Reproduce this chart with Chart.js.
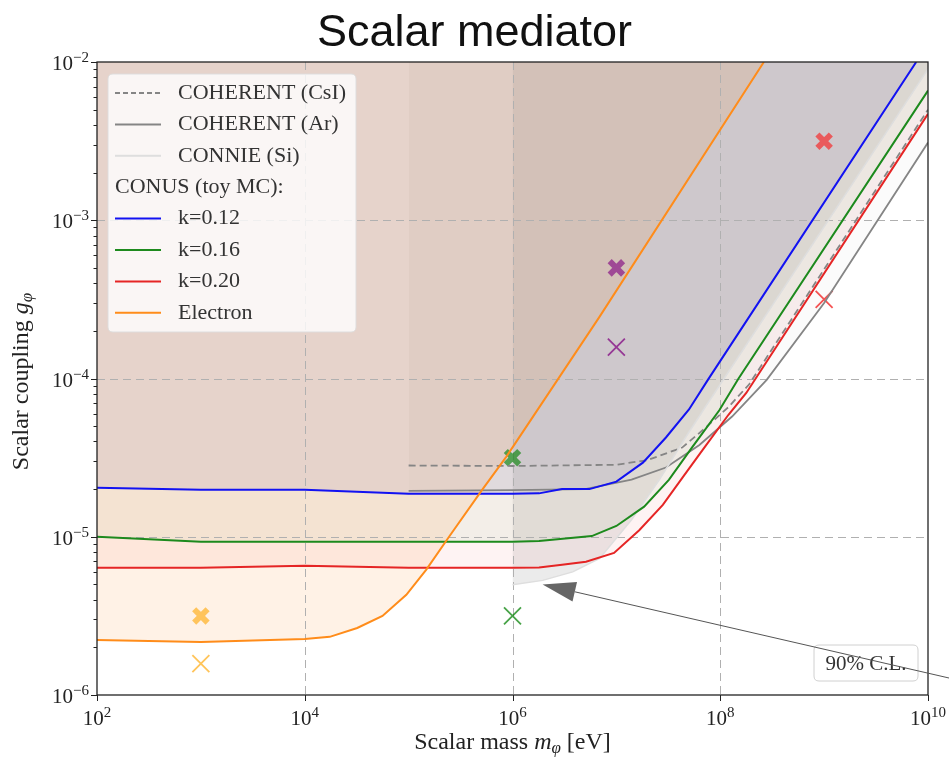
<!DOCTYPE html>
<html>
<head>
<meta charset="utf-8">
<title>Scalar mediator</title>
<script src="https://cdn.jsdelivr.net/npm/chart.js@4.4.1/dist/chart.umd.min.js"></script>
<style>
  html, body { margin: 0; padding: 0; background: #ffffff; }
  #wrap { width: 949px; height: 758px; }
</style>
</head>
<body>
<div id="wrap"><canvas id="chart" width="949" height="758"></canvas></div>
<script>
// Upper limits on the scalar-mediator coupling g_phi versus mediator mass (eV).

// COHERENT (CsI)
const massCsI     = [1e5, 1e6, 1e7, 2e7, 4.3e7, 7e7, 1.2e8, 1.9e8, 1e9, 1e10];
const couplingCsI = [2.82e-5, 2.8e-5, 2.85e-5, 3.05e-5, 3.66e-5, 4.8e-5, 6.6e-5, 9.2e-5, 4.9e-4, 5.0e-3];

// COHERENT (Ar)
const massAr      = [1e5, 1e6, 5e6, 1.4e7, 3e7, 6.3e7, 1.3e8, 2.8e8, 1e9, 1e10];
const couplingAr  = [1.95e-5, 1.97e-5, 2.0e-5, 2.3e-5, 2.74e-5, 3.8e-5, 5.75e-5, 9.8e-5, 3.0e-4, 3.1e-3];

// CONNIE (Si)
const massSi      = [1e6, 1.95e6, 3.8e6, 6.9e6, 1.4e7, 2.6e7, 4.7e7, 7.4e7, 1e10];
const couplingSi  = [4.97e-6, 5.3e-6, 6.0e-6, 7.3e-6, 1.28e-5, 2.3e-5, 4.3e-5, 6.8e-5, 9.0e-3];

// CONUS toy MC, quenching k = 0.12
const massK12     = [1e2, 1e3, 1e4, 1e5, 1e6, 1.8e6, 3e6, 5.5e6, 1e7, 1.8e7, 3e7, 5e7, 7.6e7, 7.7e9];
const couplingK12 = [2.04e-5, 1.98e-5, 1.98e-5, 1.87e-5, 1.87e-5, 1.88e-5, 2.0e-5, 2.0e-5, 2.23e-5, 2.94e-5, 4.24e-5, 6.37e-5, 9.8e-5, 1e-2];

// CONUS toy MC, quenching k = 0.16
const massK16     = [1e2, 1e3, 1e4, 1e5, 1e6, 1.8e6, 5.8e6, 1e7, 1.85e7, 3.2e7, 5.4e7, 9.8e7, 1.5e8, 1e10];
const couplingK16 = [1.0e-5, 9.3e-6, 9.3e-6, 9.3e-6, 9.3e-6, 9.4e-6, 1.01e-5, 1.17e-5, 1.55e-5, 2.29e-5, 3.7e-5, 6.3e-5, 1.0e-4, 6.6e-3];

// CONUS toy MC, quenching k = 0.20
const massK20     = [1e2, 1e3, 1e4, 1e5, 1e6, 1.8e6, 3e6, 5.1e6, 9.5e6, 1.66e7, 2.8e7, 4.4e7, 6.8e7, 1.2e8, 1.78e8, 1e10];
const couplingK20 = [6.37e-6, 6.37e-6, 6.55e-6, 6.37e-6, 6.37e-6, 6.4e-6, 6.65e-6, 6.95e-6, 7.9e-6, 1.1e-5, 1.59e-5, 2.4e-5, 3.55e-5, 5.9e-5, 8.1e-5, 4.7e-3];

// Electron recoil channel
const massElectron     = [1e2, 1e3, 1e4, 1.74e4, 3.2e4, 5.6e4, 9.5e4, 1.48e5, 2.45e5, 5.1e5, 8.7e5, 6.9e6, 2.63e8];
const couplingElectron = [2.23e-6, 2.16e-6, 2.26e-6, 2.33e-6, 2.65e-6, 3.16e-6, 4.3e-6, 6.2e-6, 1.0e-5, 1.98e-5, 3.2e-5, 2.46e-4, 1e-2];

// Benchmark points (bold and thin crosses)
const benchMass       = [1e3, 1e6, 1e7, 1e9];
const benchBold       = [3.16e-6, 3.16e-5, 5.0e-4, 3.16e-3];
const benchThin       = [1.58e-6, 3.16e-6, 1.58e-4, 3.16e-4];
const benchBoldColors = ['rgba(255,165,0,0.6)', 'rgba(0,128,0,0.62)', 'rgba(128,0,128,0.62)', 'rgba(255,0,0,0.55)'];
const benchThinColors = ['rgba(255,165,0,0.65)', 'rgba(0,128,0,0.72)', 'rgba(128,0,128,0.72)', 'rgba(240,0,0,0.68)'];

// Axis ticks
const xMajorExp = [2, 4, 6, 8, 10];
const xGridExp  = [4, 6, 8];
const yMajorExp = [-6, -5, -4, -3, -2];
const yGridExp  = [-5, -4, -3];

const SERIF = "'Liberation Serif', 'DejaVu Serif', serif";
const SANS  = "'Liberation Sans', Arial, sans-serif";

const pts = (xs, ys) => xs.map((v, i) => ({ x: v, y: ys[i] }));

const datasets = [
  { label: 'Electron', data: pts(massElectron, couplingElectron), borderColor: '#ff8c1a', borderWidth: 2,
    fill: 'end', backgroundColor: 'rgba(255,127,14,0.10)' },
  { label: 'k=0.12', data: pts(massK12, couplingK12), borderColor: '#1212f2', borderWidth: 2,
    fill: 'end', backgroundColor: 'rgba(91,66,154,0.10)' },
  { label: 'k=0.16', data: pts(massK16, couplingK16), borderColor: '#1d8a1d', borderWidth: 2,
    fill: 'end', backgroundColor: 'rgba(0,128,0,0.045)' },
  { label: 'k=0.20', data: pts(massK20, couplingK20), borderColor: '#e52525', borderWidth: 2,
    fill: 'end', backgroundColor: 'rgba(228,26,28,0.05)' },
  { label: 'CONNIE (Si)', data: pts(massSi, couplingSi), borderColor: '#dedede', borderWidth: 1.5,
    fill: 'end', backgroundColor: 'rgba(90,90,90,0.12)' },
  { label: 'COHERENT (Ar)', data: pts(massAr, couplingAr), borderColor: '#858585', borderWidth: 1.8,
    fill: 'end', backgroundColor: 'rgba(128,128,128,0.03)' },
  { label: 'COHERENT (CsI)', data: pts(massCsI, couplingCsI), borderColor: '#858585', borderWidth: 1.8,
    borderDash: [7, 4], fill: 'end', backgroundColor: 'rgba(128,128,128,0.03)' },
  { label: 'bold', data: pts(benchMass, benchBold), showLine: false, pointStyle: 'crossRot',
    pointRadius: 9.5, pointBorderWidth: 5.8, pointBorderColor: benchBoldColors, pointBackgroundColor: benchBoldColors },
  { label: 'thin', data: pts(benchMass, benchThin), showLine: false, pointStyle: 'crossRot',
    pointRadius: 12, pointBorderWidth: 1.8, pointBorderColor: benchThinColors, pointBackgroundColor: benchThinColors }
];

const legendRows = [
  { label: 'COHERENT (CsI)', ds: 6 },
  { label: 'COHERENT (Ar)', ds: 5 },
  { label: 'CONNIE (Si)', ds: 4 },
  { label: 'CONUS (toy MC):', ds: null },
  { label: 'k=0.12', ds: 1 },
  { label: 'k=0.16', ds: 2 },
  { label: 'k=0.20', ds: 3 },
  { label: 'Electron', ds: 0 }
];

function expText(e) { return (e < 0 ? '\u2212' : '') + Math.abs(e); }

function drawPower(ctx, e, px, baseY, align) {
  const big = '21px ' + SERIF, small = '15px ' + SERIF;
  ctx.font = big; const w1 = ctx.measureText('10').width;
  ctx.font = small; const w2 = ctx.measureText(expText(e)).width;
  const total = w1 + w2;
  const x0 = align === 'center' ? px - total / 2 : px - total;
  ctx.textAlign = 'left'; ctx.textBaseline = 'alphabetic';
  ctx.font = big; ctx.fillText('10', x0, baseY);
  ctx.font = small; ctx.fillText(expText(e), x0 + w1, baseY - 8);
}

function drawRich(ctx, parts, cx, baseY) {
  let total = 0;
  parts.forEach(p => { ctx.font = p.f; p.w = ctx.measureText(p.t).width; total += p.w; });
  let x = cx - total / 2;
  ctx.textAlign = 'left'; ctx.textBaseline = 'alphabetic';
  parts.forEach(p => { ctx.font = p.f; ctx.fillText(p.t, x, baseY + (p.dy || 0)); x += p.w; });
}

function roundRect(ctx, x, y, w, h, r) {
  ctx.beginPath();
  ctx.moveTo(x + r, y);
  ctx.lineTo(x + w - r, y); ctx.quadraticCurveTo(x + w, y, x + w, y + r);
  ctx.lineTo(x + w, y + h - r); ctx.quadraticCurveTo(x + w, y + h, x + w - r, y + h);
  ctx.lineTo(x + r, y + h); ctx.quadraticCurveTo(x, y + h, x, y + h - r);
  ctx.lineTo(x, y + r); ctx.quadraticCurveTo(x, y, x + r, y);
  ctx.closePath();
}

const decor = {
  id: 'decor',
  beforeDatasetsDraw(chart) {
    // dashed grid at the interior decades, above the shaded regions
    const { ctx, chartArea: a, scales: { x, y } } = chart;
    ctx.save();
    ctx.strokeStyle = '#b0b0b0'; ctx.lineWidth = 1; ctx.setLineDash([8, 5]);
    xGridExp.forEach(e => {
      const px = Math.round(x.getPixelForValue(Math.pow(10, e))) + 0.5;
      ctx.beginPath(); ctx.moveTo(px, a.top); ctx.lineTo(px, a.bottom); ctx.stroke();
    });
    yGridExp.forEach(e => {
      const py = Math.round(y.getPixelForValue(Math.pow(10, e))) + 0.5;
      ctx.beginPath(); ctx.moveTo(a.left, py); ctx.lineTo(a.right, py); ctx.stroke();
    });
    ctx.restore();
  },
  afterDatasetsDraw(chart) {
    const { ctx, chartArea: a, scales: { x, y } } = chart;
    ctx.save();

    // frame
    ctx.strokeStyle = '#222'; ctx.lineWidth = 1.3; ctx.setLineDash([]);
    ctx.strokeRect(a.left, a.top, a.right - a.left, a.bottom - a.top);

    // ticks
    ctx.lineWidth = 1;
    xMajorExp.forEach(e => {
      const px = Math.round(x.getPixelForValue(Math.pow(10, e))) + 0.5;
      ctx.beginPath(); ctx.moveTo(px, a.bottom); ctx.lineTo(px, a.bottom + 6); ctx.stroke();
    });
    yMajorExp.forEach(e => {
      const py = Math.round(y.getPixelForValue(Math.pow(10, e))) + 0.5;
      ctx.beginPath(); ctx.moveTo(a.left, py); ctx.lineTo(a.left - 6, py); ctx.stroke();
      if (e < -2) {
        for (let m = 2; m <= 9; m++) {
          const pm = Math.round(y.getPixelForValue(m * Math.pow(10, e))) + 0.5;
          ctx.beginPath(); ctx.moveTo(a.left, pm); ctx.lineTo(a.left - 3.5, pm); ctx.stroke();
        }
      }
    });

    // tick labels
    ctx.fillStyle = '#222';
    xMajorExp.forEach(e => drawPower(ctx, e, x.getPixelForValue(Math.pow(10, e)), a.bottom + 30, 'center'));
    yMajorExp.forEach(e => drawPower(ctx, e, a.left - 8, y.getPixelForValue(Math.pow(10, e)) + 8, 'right'));

    // axis titles
    drawRich(ctx, [
      { t: 'Scalar mass ', f: '24px ' + SERIF },
      { t: 'm', f: 'italic 24px ' + SERIF },
      { t: '\u03c6', f: 'italic 17px ' + SERIF, dy: 4 },
      { t: ' [eV]', f: '24px ' + SERIF }
    ], (a.left + a.right) / 2, a.bottom + 54);

    ctx.save();
    ctx.translate(28, (a.top + a.bottom) / 2 + 3);
    ctx.rotate(-Math.PI / 2);
    drawRich(ctx, [
      { t: 'Scalar coupling ', f: '24px ' + SERIF },
      { t: 'g', f: 'italic 24px ' + SERIF },
      { t: '\u03c6', f: 'italic 17px ' + SERIF, dy: 4 }
    ], 0, 0);
    ctx.restore();

    // title
    ctx.font = '45px ' + SANS; ctx.textAlign = 'center'; ctx.textBaseline = 'alphabetic';
    ctx.fillStyle = '#111';
    ctx.fillText('Scalar mediator', chart.width / 2, 46);

    // legend
    const lx = a.left + 11, ly = a.top + 12, lw = 248, lh = 258;
    roundRect(ctx, lx, ly, lw, lh, 5);
    ctx.fillStyle = 'rgba(255,255,255,0.8)'; ctx.fill();
    ctx.strokeStyle = 'rgba(220,220,220,0.9)'; ctx.lineWidth = 1; ctx.stroke();
    legendRows.forEach((row, i) => {
      const ry = ly + 19 + i * 31.4;
      ctx.font = '22px ' + SERIF; ctx.textBaseline = 'middle'; ctx.textAlign = 'left';
      ctx.fillStyle = '#333';
      if (row.ds === null) {
        ctx.fillText(row.label, lx + 7, ry);
        return;
      }
      const ds = chart.data.datasets[row.ds];
      ctx.strokeStyle = ds.borderColor; ctx.lineWidth = 2;
      ctx.setLineDash(ds.borderDash ? [5, 3] : []);
      ctx.beginPath(); ctx.moveTo(lx + 7, ry); ctx.lineTo(lx + 53, ry); ctx.stroke();
      ctx.setLineDash([]);
      ctx.fillText(row.label, lx + 70, ry);
    });

    // confidence-level note
    const bw = 104, bh = 36, bx = a.right - 10 - bw, by = a.bottom - 14 - bh;
    roundRect(ctx, bx, by, bw, bh, 5);
    ctx.fillStyle = 'rgba(255,255,255,0.85)'; ctx.fill();
    ctx.strokeStyle = '#d0d0d0'; ctx.lineWidth = 1; ctx.stroke();
    ctx.fillStyle = '#333'; ctx.font = '21px ' + SERIF; ctx.textAlign = 'center'; ctx.textBaseline = 'middle';
    ctx.fillText('90% C.L.', bx + bw / 2, by + bh / 2 + 1);

    // arrow pointing at the CONNIE edge
    const tipX = x.getPixelForValue(1.95e6), tipY = y.getPixelForValue(5e-6);
    const tailX = chart.width, tailY = a.bottom - 17;
    const dx = tailX - tipX, dy = tailY - tipY, len = Math.hypot(dx, dy);
    const ux = dx / len, uy = dy / len;
    const hl = 33, hw = 10;
    ctx.strokeStyle = '#555'; ctx.lineWidth = 1;
    ctx.beginPath(); ctx.moveTo(tipX + ux * hl, tipY + uy * hl); ctx.lineTo(tailX, tailY); ctx.stroke();
    ctx.fillStyle = '#666';
    ctx.beginPath();
    ctx.moveTo(tipX, tipY);
    ctx.lineTo(tipX + ux * hl - uy * hw, tipY + uy * hl + ux * hw);
    ctx.lineTo(tipX + ux * hl + uy * hw, tipY + uy * hl - ux * hw);
    ctx.closePath(); ctx.fill();

    ctx.restore();
  }
};

new Chart(document.getElementById('chart'), {
  type: 'line',
  data: { datasets },
  options: {
    responsive: false,
    animation: false,
    devicePixelRatio: 1,
    layout: { padding: { left: 97, right: 21, top: 62, bottom: 63 } },
    scales: {
      x: { type: 'logarithmic', min: 1e2, max: 1e10, display: false },
      y: { type: 'logarithmic', min: 1e-6, max: 1e-2, display: false }
    },
    elements: { line: { tension: 0 }, point: { radius: 0 } },
    plugins: {
      legend: { display: false },
      tooltip: { enabled: false },
      filler: { drawTime: 'beforeDatasetsDraw' }
    }
  },
  plugins: [decor]
});
</script>
</body>
</html>
